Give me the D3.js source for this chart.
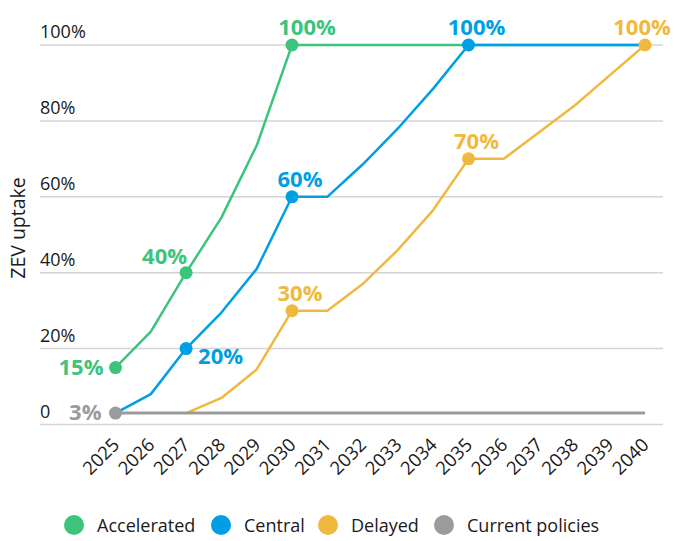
<!DOCTYPE html>
<meta charset="utf-8" />
<head>
  <script src="https://d3js.org/d3.v7.min.js"></script>
  <style>
    body { margin: 0; background: #fff; }
    text { font-family: "Open Sans", sans-serif; }
  </style>
</head>
<body>
  <div id="chart"></div>
</body>
<script>
  // data
  const years = [2025, 2026, 2027, 2028, 2029, 2030, 2031, 2032, 2033, 2034, 2035, 2036, 2037, 2038, 2039, 2040];
  const accelerated = [15, 24.5, 40, 54.5, 73.5, 100, 100, 100, 100, 100, 100, 100, 100, 100, 100, 100];
  const central = [3, 8, 20, 29.5, 41, 60, 60, 68.5, 78, 88.5, 100, 100, 100, 100, 100, 100];
  const delayed = [null, null, 3, 7, 14.5, 30, 30, 37, 46, 56.5, 70, 70, 77, 84, 92, 100];
  const currentPolicies = [3, 3, 3, 3, 3, 3, 3, 3, 3, 3, 3, 3, 3, 3, 3, 3];
  const yTicks = [0, 20, 40, 60, 80, 100];
  const seriesNames = ["Accelerated", "Central", "Delayed", "Current policies"];
  const seriesValues = [accelerated, central, delayed, currentPolicies];
  const colors = ["#3cc47c", "#009fe3", "#f0b93e", "#9b9b9b"];

  // which points carry a value label: [series index, year, text, placement]
  const labelled = [
    [0, 2025, "15%", "left"],
    [0, 2027, "40%", "aboveLeft"],
    [0, 2030, "100%", "aboveWide"],
    [1, 2027, "20%", "belowRight"],
    [1, 2030, "60%", "above"],
    [1, 2035, "100%", "above"],
    [2, 2030, "30%", "above"],
    [2, 2035, "70%", "above"],
    [2, 2040, "100%", "aboveEnd"],
    [3, 2025, "3%", "leftGrey"]
  ];
  const placement = {
    left: { dx: -12, dy: 7, anchor: "end" },
    leftGrey: { dx: -14, dy: 7, anchor: "end" },
    aboveLeft: { dx: 1, dy: -9, anchor: "end" },
    aboveWide: { dx: 15, dy: -10, anchor: "middle" },
    above: { dx: 8, dy: -10, anchor: "middle" },
    aboveEnd: { dx: -3, dy: -10, anchor: "middle" },
    belowRight: { dx: 12, dy: 15, anchor: "start" }
  };

  const W = 679, H = 541;
  const svg = d3.select("#chart").append("svg").attr("width", W).attr("height", H);

  var x = d3.scaleLinear().domain([2025, 2040]).range([115.5, 645]);
  var y = d3.scaleLinear().domain([0, 100]).range([424.5, 45]);

  // gridlines and y labels
  const grid = svg.append("g");
  grid.selectAll("line")
    .data(yTicks)
    .enter()
    .append("line")
    .attr("x1", 40)
    .attr("x2", 663)
    .attr("y1", (d) => y(d))
    .attr("y2", (d) => y(d))
    .attr("stroke", "#d4d4d4")
    .attr("stroke-width", 1.5);
  grid.selectAll("text")
    .data(yTicks)
    .enter()
    .append("text")
    .attr("x", 40)
    .attr("y", (d) => y(d) - 7)
    .style("font-size", "18px")
    .style("fill", "#1a1a1a")
    .text((d) => (d === 0 ? "0" : d + "%"));

  // x labels
  svg.append("g")
    .selectAll("text")
    .data(years)
    .enter()
    .append("text")
    .attr("transform", (d) => "translate(" + (x(d) + 5) + ",446) rotate(-45)")
    .style("text-anchor", "end")
    .style("font-size", "18.5px")
    .style("fill", "#1a1a1a")
    .text((d) => d);

  svg.append("text")
    .attr("transform", "translate(25,228) rotate(-90)")
    .style("text-anchor", "middle")
    .style("font-size", "19.5px")
    .style("fill", "#1a1a1a")
    .text("ZEV uptake");

  const line = d3.line()
    .defined((d) => d.v !== null)
    .x((d) => x(d.year))
    .y((d) => y(d.v));

  seriesValues.forEach((vals, i) => {
    const pts = years.map((yr, j) => ({ year: yr, v: vals[j] }));
    svg.append("path")
      .datum(pts)
      .attr("d", line)
      .attr("fill", "none")
      .attr("stroke", colors[i])
      .attr("stroke-width", i === 3 ? 3 : 2.5)
      .attr("stroke-linejoin", "round");
  });

  // dots and labels
  labelled.forEach(([s, yr, txt, p]) => {
    const v = seriesValues[s][years.indexOf(yr)];
    const cx = x(yr), cy = y(v);
    svg.append("circle")
      .attr("cx", cx)
      .attr("cy", cy)
      .attr("r", 6.5)
      .attr("fill", colors[s]);
    const pl = placement[p];
    svg.append("text")
      .attr("x", cx + pl.dx)
      .attr("y", cy + pl.dy)
      .style("text-anchor", pl.anchor)
      .style("font-size", "22px")
      .style("font-weight", "bold")
      .style("fill", colors[s])
      .text(txt);
  });

  // legend
  const legendX = [74, 221, 328, 444];
  const legend = svg.append("g");
  seriesNames.forEach((name, i) => {
    legend.append("circle")
      .attr("cx", legendX[i])
      .attr("cy", 525)
      .attr("r", 10)
      .attr("fill", colors[i]);
    legend.append("text")
      .attr("x", legendX[i] + 23)
      .attr("y", 531.5)
      .style("font-size", "18px")
      .style("fill", "#1a1a1a")
      .text(name);
  });
</script>
